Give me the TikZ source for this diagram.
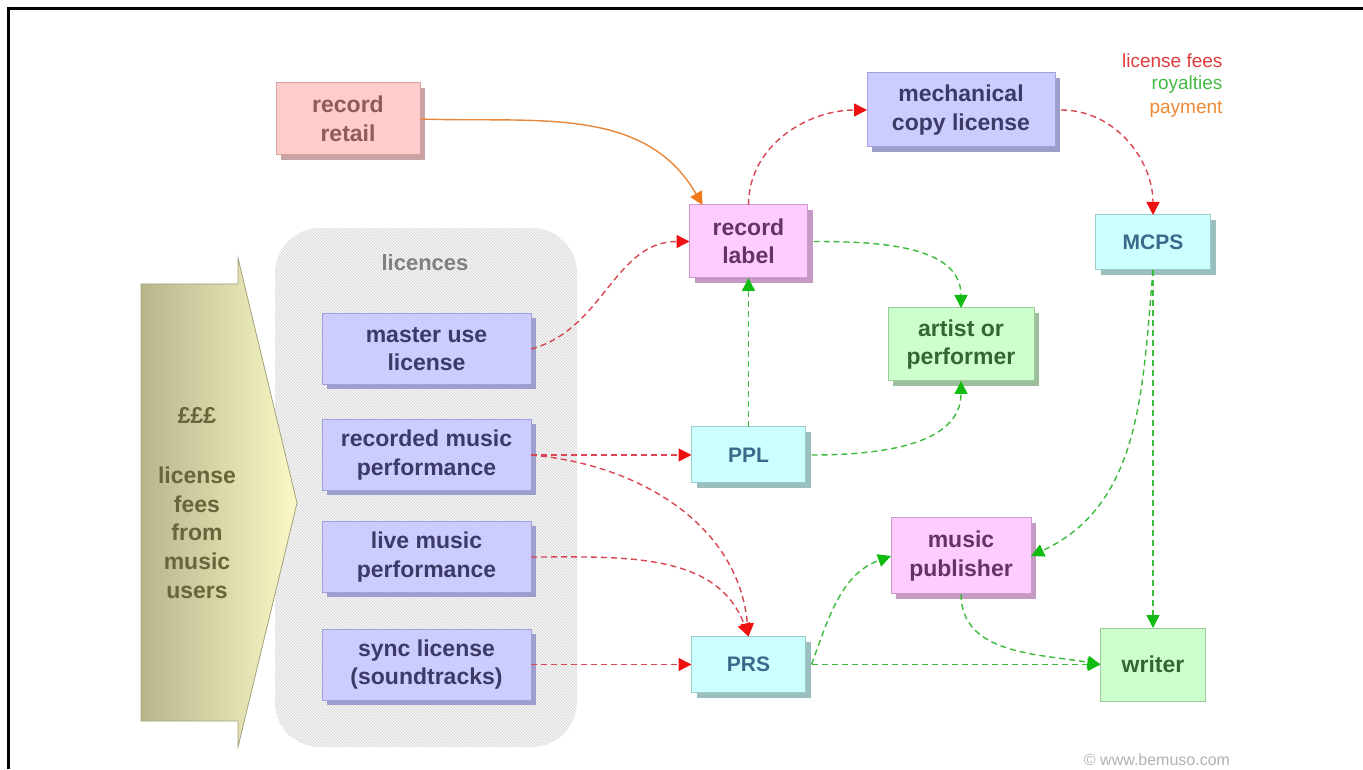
\documentclass[tikz,border=0pt]{standalone}
\usepackage{fontspec}
\setmainfont{Liberation Sans}
\usetikzlibrary{arrows.meta,shadows,patterns}

\definecolor{retailfill}{HTML}{FFCCCC}
\definecolor{retailline}{HTML}{D9A0A0}
\definecolor{retailshadow}{HTML}{C9A3A3}
\definecolor{retailtext}{HTML}{8E5B5B}
\definecolor{licfill}{HTML}{CCCCFF}
\definecolor{licline}{HTML}{A0A0E0}
\definecolor{licshadow}{HTML}{9E9ECC}
\definecolor{lictext}{HTML}{3B3B66}
\definecolor{labelfill}{HTML}{FFCCFF}
\definecolor{labelline}{HTML}{CC99CC}
\definecolor{labelshadow}{HTML}{C499C4}
\definecolor{labeltext}{HTML}{663366}
\definecolor{socfill}{HTML}{CCFFFF}
\definecolor{socline}{HTML}{99CCCC}
\definecolor{socshadow}{HTML}{9BBFBF}
\definecolor{soctext}{HTML}{3A6A8A}
\definecolor{artfill}{HTML}{CCFFCC}
\definecolor{artline}{HTML}{99CC99}
\definecolor{artshadow}{HTML}{9DBD9D}
\definecolor{arttext}{HTML}{336633}
\definecolor{panelfill}{HTML}{F6F6F6}
\definecolor{panelhatch}{HTML}{D2D2D2}
\definecolor{userleft}{HTML}{B7B58C}
\definecolor{userright}{HTML}{FAF9C6}
\definecolor{userline}{HTML}{A3A27C}
\definecolor{usertext}{HTML}{66663A}
\definecolor{feeline}{HTML}{D94552}
\definecolor{feehead}{HTML}{EE1111}
\definecolor{royline}{HTML}{3DBB3D}
\definecolor{royhead}{HTML}{11BB11}
\definecolor{payline}{HTML}{E8873A}
\definecolor{payhead}{HTML}{F07A1A}
\definecolor{legfee}{HTML}{E03C3C}
\definecolor{legroy}{HTML}{44BB44}
\definecolor{legpay}{HTML}{EE8833}

\tikzset{
  box/.style={draw, line width=1pt, inner sep=0pt, outer sep=0pt, align=center,
    font=\fontsize{23}{28.5}\selectfont\bfseries},
  boxshadow/.style={drop shadow={shadow xshift=5pt, shadow yshift=-5pt, opacity=1, fill=#1}},
  retailbox/.style={box, fill=retailfill, draw=retailline, text=retailtext, boxshadow=retailshadow},
  licbox/.style={box, fill=licfill, draw=licline, text=lictext, boxshadow=licshadow},
  labelbox/.style={box, fill=labelfill, draw=labelline, text=labeltext, boxshadow=labelshadow},
  socbox/.style={box, fill=socfill, draw=socline, text=soctext, boxshadow=socshadow,
    font=\fontsize{21}{25}\selectfont\bfseries},
  artbox/.style={box, fill=artfill, draw=artline, text=arttext, boxshadow=artshadow},
  writerbox/.style={box, fill=artfill, draw=artline, text=arttext},
  panel/.style={rounded corners=45pt, inner sep=0pt, preaction={fill=panelfill},
    pattern=north west lines, pattern color=panelhatch},
  legend/.style={anchor=east, font=\fontsize{19}{24}\selectfont},
  fee/.style={draw=feeline, line width=1.4pt, dash pattern=on 6pt off 4pt,
    -{Triangle[length=13pt,width=13pt,color=feehead]}},
  roy/.style={draw=royline, line width=1.4pt, dash pattern=on 6pt off 4pt,
    -{Triangle[length=13pt,width=13pt,color=royhead]}},
  pay/.style={draw=payline, line width=1.4pt,
    -{Triangle[length=13pt,width=13pt,color=payhead]}}
}

\begin{document}
\begin{tikzpicture}[x=1pt, y=1pt]
  \fill[white] (0,0) rectangle (1363,769);
  \useasboundingbox (0,0) rectangle (1363,769);
  \draw[line width=3pt] (8,0) -- (8,760) -- (1363,760);

  % licences
  \node[panel, minimum width=302pt, minimum height=519pt] (licences) at (426,281.5) {};
  \node[font=\fontsize{22}{26}\selectfont\bfseries, text=gray] (lictitle) at (425,506) {licences};

  % money coming in from music users
  \shade[left color=userleft, right color=userright, draw=userline, line width=0.8pt]
    (141,485) -- (238,485) -- (238,511) -- (297,266) -- (238,22) -- (238,48) -- (141,48) -- cycle;
  \node[font=\fontsize{23}{28.75}\selectfont\bfseries, text=usertext, align=center] (users) at (197,266)
    {£££\\[31pt]license\\fees\\from\\music\\users};

  \foreach \name/\y/\txt in {master/420/{master use\\license}, recorded/314/{recorded music\\performance},
      live/212/{live music\\performance}, sync/104.5/{sync license\\(soundtracks)}}{
    \node[licbox, minimum width=209pt, minimum height=71pt] (\name) at (426.5,\y) {\txt};
  }

  \node[retailbox, minimum width=144pt, minimum height=72pt] (retail) at (348,650) {record\\retail};
  \node[licbox, minimum width=188pt, minimum height=74pt] (mech) at (961,659) {mechanical\\copy license};
  \node[labelbox, minimum width=118pt, minimum height=73pt] (label) at (748.5,527.5) {record\\label};
  \node[socbox, minimum width=115pt, minimum height=55pt] (mcps) at (1153,526.5) {MCPS};
  \node[socbox, minimum width=114pt, minimum height=56pt] (ppl) at (748.5,314) {PPL};
  \node[socbox, minimum width=114pt, minimum height=56pt] (prs) at (748.5,104.5) {PRS};
  \node[artbox, minimum width=146pt, minimum height=73pt] (artist) at (961,424.5) {artist or\\performer};
  \node[labelbox, minimum width=140pt, minimum height=76pt] (publisher) at (961,213) {music\\publisher};
  \node[writerbox, minimum width=105pt, minimum height=73pt] (writer) at (1153,104.5) {writer};

  % key
  \node[legend, text=legfee] (keyfee) at (1226,708) {license fees};
  \node[legend, text=legroy] (keyroy) at (1226,684) {royalties};
  \node[legend, text=legpay] (keypay) at (1226,660) {payment};
  \node[text=gray!60, font=\fontsize{16}{18}\selectfont] (credit) at (1157,9) {© www.bemuso.com};

  % license fees
  \draw[fee] (master.east) to[out=15,in=180] (label.west);
  \draw[fee] (label.north) to[out=90,in=180] (mech.west);
  \draw[fee] ([xshift=6pt]mech.east) to[out=0,in=90] (mcps.north);
  \draw[fee] (recorded.east) -- (ppl.west);
  \draw[fee] (recorded.east) to[out=-5,in=95] (prs.north);
  \draw[fee] (live.east) to[out=0,in=110] (prs.north);
  \draw[fee] (sync.east) -- (prs.west);

  % royalties
  \draw[roy] ([xshift=6pt]label.east) to[out=0,in=90] (artist.north);
  \draw[roy] (ppl.north) -- (label.south);
  \draw[roy] ([xshift=6pt]ppl.east) to[out=0,in=-90] (artist.south);
  \draw[roy] (mcps.south) to[out=-95,in=25] (publisher.east);
  \draw[roy] (mcps.south) -- (writer.north);
  \draw[roy] ([xshift=6pt]prs.east) to[out=70,in=200] (publisher.west);
  \draw[roy] ([xshift=6pt]prs.east) -- (writer.west);
  \draw[roy] (publisher.south) to[out=-90,in=170] (writer.west);

  % payment
  \draw[pay] (retail.east) to[out=-2,in=120] ([xshift=13pt]label.north west);
\end{tikzpicture}
\end{document}
